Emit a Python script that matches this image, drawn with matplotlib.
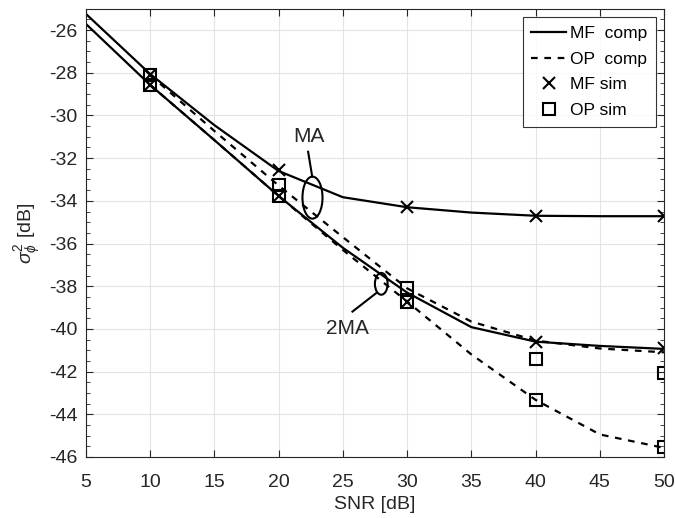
import numpy as np
import matplotlib
matplotlib.use("Agg")
import matplotlib.pyplot as plt
from matplotlib.patches import Ellipse
from matplotlib.ticker import MultipleLocator

plt.rcParams['font.family'] = ['Liberation Sans', 'DejaVu Sans']
plt.rcParams['axes.unicode_minus'] = False
plt.rcParams['mathtext.fontset'] = 'custom'
plt.rcParams['mathtext.rm'] = 'Liberation Sans'
plt.rcParams['mathtext.it'] = 'Liberation Sans:italic'

# SNR grid
snr_comp = [5, 10, 15, 20, 25, 30, 35, 40, 45, 50]
snr_op = [10, 15, 20, 25, 30, 35, 40, 45, 50]
snr_sim = [10, 20, 30, 40, 50]

# computed curves
mf_comp_ma = [-25.23, -28.05, -30.45, -32.6, -33.83, -34.3, -34.55, -34.7, -34.72, -34.72]
mf_comp_2ma = [-25.7, -28.56, -31.15, -33.77, -36.2, -38.3, -39.92, -40.6, -40.8, -40.94]
op_comp_ma = [-28.1, -30.72, -33.28, -35.7, -38.1, -39.66, -40.55, -40.92, -41.1]
op_comp_2ma = [-28.56, -31.15, -33.77, -36.3, -38.72, -41.2, -43.33, -44.95, -45.58]

# simulated points
mf_sim_ma = [-28.1, -32.55, -34.3, -34.72, -34.72]
mf_sim_2ma = [-28.56, -33.77, -38.72, -40.6, -40.91]
op_sim_ma = [-28.09, -33.28, -38.1, -41.42, -42.05]
op_sim_2ma = [-28.56, -33.77, -38.72, -43.33, -45.55]

fig = plt.figure(figsize=(6.75, 5.18), dpi=100)
ax = fig.add_axes([0.127, 0.118, 0.857, 0.865])

lw = 1.6
ax.plot(snr_comp, mf_comp_ma, '-', color='k', lw=lw, label='MF  comp')
ax.plot(snr_comp, mf_comp_2ma, '-', color='k', lw=lw)
ax.plot(snr_op, op_comp_ma, '--', color='k', lw=lw, dashes=(3, 3), label='OP  comp')
ax.plot(snr_op, op_comp_2ma, '--', color='k', lw=lw, dashes=(3, 3))
ax.plot(snr_sim, mf_sim_ma, 'x', color='k', ms=9, mew=1.5, ls='none', label='MF sim')
ax.plot(snr_sim, mf_sim_2ma, 'x', color='k', ms=9, mew=1.5, ls='none')
ax.plot(snr_sim, op_sim_ma, 's', mfc='none', mec='k', ms=8, mew=1.5, ls='none', label='OP sim')
ax.plot(snr_sim, op_sim_2ma, 's', mfc='none', mec='k', ms=8, mew=1.5, ls='none')

# annotations
ax.add_patch(Ellipse((22.64, -33.85), 1.56, 1.97, fill=False, color='k', lw=1.5))
ax.plot([22.3, 22.62], [-31.7, -32.87], color='k', lw=1.5)
ax.text(22.33, -30.99, 'MA', ha='center', va='center', fontsize=15, color='#262626')
ax.add_patch(Ellipse((27.99, -37.89), 0.99, 1.02, fill=False, color='k', lw=1.5))
ax.plot([25.75, 27.65], [-39.19, -38.3], color='k', lw=1.5)
ax.text(25.32, -39.97, '2MA', ha='center', va='center', fontsize=15, color='#262626')

ax.set_xlim(5, 50)
ax.set_ylim(-46, -25)
ax.xaxis.set_major_locator(MultipleLocator(5))
ax.yaxis.set_major_locator(MultipleLocator(2))
ax.yaxis.set_minor_locator(MultipleLocator(0.5))
ax.tick_params(which='both', direction='in', top=True, right=True, colors='#262626',
               labelsize=14)
ax.tick_params(which='major', length=5)
ax.tick_params(axis='y', which='major', pad=6)
ax.tick_params(axis='x', which='major', pad=12)
ax.tick_params(which='minor', length=3)
ax.grid(True, which='major', color='#e3e3e3', lw=0.8)
ax.set_axisbelow(True)
for s in ax.spines.values():
    s.set_color('#262626')
    s.set_linewidth(0.8)

ax.set_xlabel('SNR [dB]', fontsize=14, color='#262626', labelpad=4)
ax.set_ylabel(r'$\sigma^2_\phi$ [dB]', fontsize=14, color='#262626', labelpad=4)

leg = ax.legend(loc='upper right', fontsize=12.5, frameon=True, fancybox=False,
                edgecolor='k', handlelength=2.0, borderaxespad=0.5,
                labelspacing=0.6, handletextpad=0.2, borderpad=0.5)
leg.get_frame().set_linewidth(0.8)

fig.savefig('out.png', dpi=100)
